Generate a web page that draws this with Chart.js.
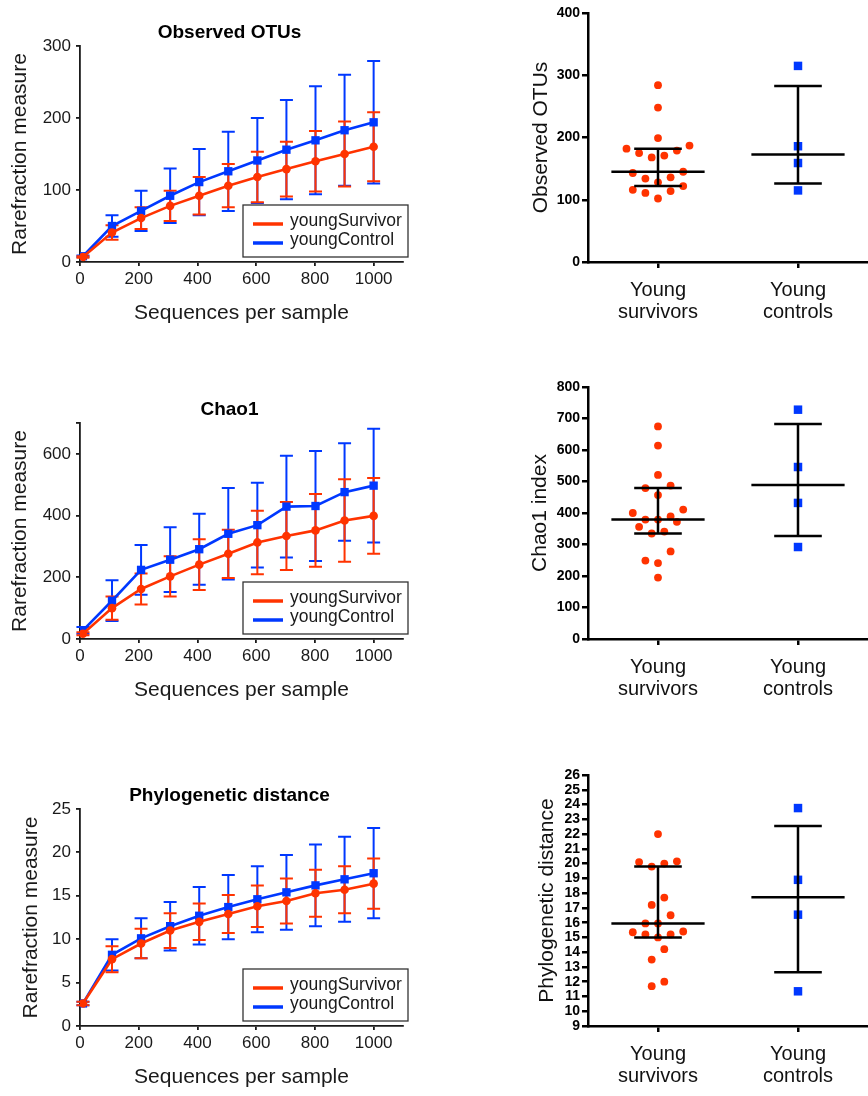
<!DOCTYPE html>
<html>
<head>
<meta charset="utf-8">
<script src="https://cdn.jsdelivr.net/npm/chart.js@4.4.1/dist/chart.umd.min.js"></script>
<style>
body { margin: 0; background: #fff; }
#page { position: relative; width: 868px; height: 1096px; overflow: hidden; }
canvas { position: absolute; }
</style>
</head>
<body>
<div id="page">
  <canvas id="otuCurve" width="459" height="332" style="left:0;top:0"></canvas>
  <canvas id="chaoCurve" width="459" height="339" style="left:0;top:370px"></canvas>
  <canvas id="pdCurve" width="459" height="336" style="left:0;top:760px"></canvas>
  <canvas id="otuDots" width="348" height="340" style="left:520px;top:0"></canvas>
  <canvas id="chaoDots" width="348" height="340" style="left:520px;top:370px"></canvas>
  <canvas id="pdDots" width="348" height="336" style="left:520px;top:760px"></canvas>
</div>
<script>
// rarefaction depths (x) and series names
const depths = [10, 109, 208, 307, 406, 505, 604, 703, 802, 901, 1000];
const seriesNames = ['youngSurvivor', 'youngControl'];
const depthTicks = [0, 200, 400, 600, 800, 1000];

// Observed OTUs rarefaction (mean, SD)
const otuSurvivorMean = [7, 41, 61, 78, 92, 106, 118, 129, 140, 150, 160];
const otuSurvivorSD = [1, 10, 15, 21, 26, 30, 35, 38, 42, 45, 48];
const otuControlMean = [8, 50, 71, 92, 111, 126, 141, 156, 169, 183, 194];
const otuControlSD = [1, 15, 28, 38, 46, 55, 59, 69, 75, 77, 85];
const otuCurveTicks = [0, 100, 200, 300];
const otuCurveLabels = ['0', '100', '200', '300'];

// Chao1 rarefaction
const chaoSurvivorMean = [17, 100, 162, 203, 241, 276, 313, 334, 352, 384, 399];
const chaoSurvivorSD = [5, 38, 50, 65, 82, 78, 103, 110, 118, 134, 123];
const chaoControlMean = [28, 124, 224, 257, 291, 341, 369, 429, 431, 476, 497];
const chaoControlSD = [11, 66, 81, 105, 115, 148, 137, 165, 178, 158, 184];
const chaoCurveTicks = [0, 200, 400, 600, 700];
const chaoCurveLabels = ['0', '200', '400', '600', ''];

// Phylogenetic distance rarefaction
const pdSurvivorMean = [2.6, 7.7, 9.5, 11.0, 12.0, 12.9, 13.8, 14.4, 15.3, 15.7, 16.4];
const pdSurvivorSD = [0.2, 1.5, 1.7, 2.0, 2.1, 2.2, 2.4, 2.6, 2.7, 2.7, 2.9];
const pdControlMean = [2.6, 8.2, 10.1, 11.5, 12.7, 13.7, 14.6, 15.4, 16.2, 16.9, 17.6];
const pdControlSD = [0.2, 1.8, 2.3, 2.8, 3.3, 3.7, 3.8, 4.3, 4.7, 4.9, 5.2];
const pdCurveTicks = [0, 5, 10, 15, 20, 25];
const pdCurveLabels = ['0', '5', '10', '15', '20', '25'];

// per-sample values for the dot plots
const groupNames = [['Young', 'survivors'], ['Young', 'controls']];
const otuSurvivors = [284, 248, 199, 182, 187, 175, 179, 168, 171, 143, 145, 134, 136, 128, 122, 116, 114, 111, 102];
const otuControls = [315, 186, 159, 115];
const otuDotTicks = [0, 100, 200, 300, 400];
const chaoSurvivors = [675, 614, 521, 487, 479, 457, 400, 411, 379, 379, 389, 372, 356, 335, 341, 278, 249, 241, 195];
const chaoControls = [728, 546, 432, 292];
const chaoDotTicks = [0, 100, 200, 300, 400, 500, 600, 700, 800];
const pdSurvivors = [22.0, 20.15, 20.0, 19.8, 20.1, 17.7, 17.2, 16.5, 15.95, 15.95, 15.4, 15.35, 15.2, 15.2, 15.0, 14.2, 13.5, 12.0, 11.7];
const pdControls = [23.76, 18.9, 16.54, 11.35];
const pdDotTicks = [9, 10, 11, 12, 13, 14, 15, 16, 17, 18, 19, 20, 21, 22, 23, 24, 25, 26];

const RED = '#ff3300';
const BLUE = '#0038ff';
const INK = '#1a1a1a';
Chart.defaults.font.family = "'Liberation Sans', Arial, sans-serif";
Chart.defaults.color = INK;

// SD error bars under the rarefaction lines
const errorBars = {
  id: 'errorBars',
  beforeDatasetsDraw(chart) {
    const { ctx, scales: { x, y } } = chart;
    ctx.save();
    ctx.lineWidth = 2;
    for (let d = chart.data.datasets.length - 1; d >= 0; d--) {
      const ds = chart.data.datasets[d];
      ctx.strokeStyle = ds.borderColor;
      ds.data.forEach((p, i) => {
        const px = x.getPixelForValue(p.x);
        const hi = y.getPixelForValue(p.y + ds.errors[i]);
        const lo = y.getPixelForValue(p.y - ds.errors[i]);
        ctx.beginPath();
        ctx.moveTo(px, hi); ctx.lineTo(px, lo);
        ctx.moveTo(px - 6.5, hi); ctx.lineTo(px + 6.5, hi);
        ctx.moveTo(px - 6.5, lo); ctx.lineTo(px + 6.5, lo);
        ctx.stroke();
      });
    }
    ctx.restore();
  }
};

// boxed legend in the lower right corner of the plot
const insideLegend = {
  id: 'insideLegend',
  afterDraw(chart) {
    const { ctx, chartArea: a } = chart;
    const w = 165, h = 52;
    const left = a.right + 5 - w, top = a.bottom - 5 - h;
    ctx.save();
    ctx.fillStyle = '#fff';
    ctx.fillRect(left, top, w, h);
    ctx.strokeStyle = '#333';
    ctx.lineWidth = 1.3;
    ctx.strokeRect(left, top, w, h);
    chart.data.datasets.forEach((ds, i) => {
      const y = top + 19 + i * 19;
      ctx.strokeStyle = ds.borderColor;
      ctx.lineWidth = 3.5;
      ctx.beginPath();
      ctx.moveTo(left + 10, y);
      ctx.lineTo(left + 40, y);
      ctx.stroke();
      ctx.fillStyle = INK;
      ctx.font = "17.5px 'Liberation Sans', Arial, sans-serif";
      ctx.textBaseline = 'middle';
      ctx.fillText(ds.label, left + 47, y - 3);
    });
    ctx.restore();
  }
};

function rarefactionChart(id, cfg) {
  const series = (mean, sd, i, color, style, r) => ({
    label: seriesNames[i],
    data: depths.map((d, k) => ({ x: d, y: mean[k] })),
    errors: sd,
    borderColor: color,
    backgroundColor: color,
    pointBackgroundColor: color,
    pointBorderWidth: 0,
    pointStyle: style,
    pointRadius: r,
    pointHoverRadius: r,
    borderWidth: 2.6,
    tension: 0
  });
  return new Chart(document.getElementById(id), {
    type: 'line',
    data: {
      datasets: [
        series(cfg.survivor, cfg.survivorSD, 0, RED, 'circle', 4.3),
        series(cfg.control, cfg.controlSD, 1, BLUE, 'rect', 5.9)
      ]
    },
    options: {
      responsive: false,
      animation: false,
      layout: { padding: 0, autoPadding: false },
      plugins: {
        legend: { display: false },
        tooltip: { enabled: false },
        title: {
          display: true,
          text: cfg.title,
          color: '#000',
          font: { size: 19, weight: 'bold' },
          padding: { top: cfg.titleTop, bottom: 1.6 }
        }
      },
      scales: {
        x: {
          type: 'linear',
          min: 0,
          max: 1100,
          afterBuildTicks: s => { s.ticks = depthTicks.map(v => ({ value: v })); },
          afterFit: s => { s.height = 70; },
          grid: { drawOnChartArea: false, tickLength: 4, color: INK, lineWidth: 1.8 },
          border: { color: INK, width: 1.8 },
          ticks: { font: { size: 17 }, padding: 3, maxRotation: 0, callback: v => String(v) },
          title: { display: true, text: 'Sequences per sample', font: { size: 21 }, padding: { top: 0, bottom: 6.4 } }
        },
        y: {
          min: 0,
          max: cfg.yMax,
          afterBuildTicks: s => { s.ticks = cfg.ticks.map(v => ({ value: v })); },
          afterFit: s => { s.width = 80; },
          grid: { drawOnChartArea: false, tickLength: 4, color: INK, lineWidth: 1.8 },
          border: { color: INK, width: 1.8 },
          ticks: { font: { size: 17 }, padding: 5, callback: (v, i) => cfg.labels[i] },
          title: { display: true, text: 'Rarefraction measure', font: { size: 21 }, padding: { top: cfg.yTitlePad, bottom: 0 } }
        },
        pad: {
          position: 'right',
          display: true,
          grid: { display: false },
          border: { display: false },
          ticks: { display: false },
          afterFit: s => { s.width = 56; }
        }
      }
    },
    plugins: [errorBars, insideLegend]
  });
}

// Prism-style quantile: rank p*(n+1), linear interpolation
function quantile(values, p) {
  const s = [...values].sort((a, b) => a - b);
  const r = p * (s.length + 1);
  const lo = Math.floor(r);
  if (lo < 1) return s[0];
  if (lo >= s.length) return s[s.length - 1];
  return s[lo - 1] + (r - lo) * (s[lo] - s[lo - 1]);
}

// spread the points of one group sideways, row by row
function swarm(chart, dsIndex, center) {
  const ys = chart.scales.y, xs = chart.scales.x;
  const unit = xs.getPixelForValue(1) - xs.getPixelForValue(0);
  const data = chart.data.datasets[dsIndex].data;
  const pts = data.map((p, i) => ({ i, py: ys.getPixelForValue(p.y) })).sort((a, b) => b.py - a.py);
  const rows = [];
  let row = [];
  for (const p of pts) {
    if (row.length && row[0].py - p.py > 13) { rows.push(row); row = []; }
    row.push(p);
  }
  rows.push(row);
  for (const r of rows) {
    const odd = r.length % 2 === 1;
    r.forEach((p, k) => {
      let slot;
      if (odd) slot = k === 0 ? 0 : (k % 2 ? -1 : 1) * 2 * Math.ceil(k / 2);
      else slot = (k % 2 ? 1 : -1) * (2 * Math.floor(k / 2) + 1);
      data[p.i].x = center + slot * 6.3 / unit;
    });
  }
}

function dotChart(id, cfg) {
  const lines = [];
  cfg.groups.forEach((vals, g) => {
    const med = quantile(vals, 0.5), q1 = quantile(vals, 0.25), q3 = quantile(vals, 0.75);
    lines.push(
      { x: g - 0.333, y: med }, { x: g + 0.333, y: med }, { x: g, y: null },
      { x: g - 0.17, y: q3 }, { x: g + 0.17, y: q3 }, { x: g, y: null },
      { x: g - 0.17, y: q1 }, { x: g + 0.17, y: q1 }, { x: g, y: null },
      { x: g, y: q1 }, { x: g, y: q3 }, { x: g, y: null }
    );
  });
  const chart = new Chart(document.getElementById(id), {
    type: 'scatter',
    data: {
      datasets: [
        { data: lines, showLine: true, spanGaps: false, borderColor: '#000', borderWidth: 2.5, pointRadius: 0, pointHoverRadius: 0 },
        { data: cfg.groups[0].map(v => ({ x: 0, y: v })), pointStyle: 'circle', pointRadius: 3.9, pointHoverRadius: 3.9, backgroundColor: RED, borderWidth: 0 },
        { data: cfg.groups[1].map(v => ({ x: 1, y: v })), pointStyle: 'rect', pointRadius: 6, pointHoverRadius: 6, backgroundColor: BLUE, borderWidth: 0 }
      ]
    },
    options: {
      responsive: false,
      animation: false,
      layout: { padding: { top: cfg.padTop, left: 0, right: 0, bottom: 0 }, autoPadding: false },
      plugins: { legend: { display: false }, tooltip: { enabled: false } },
      scales: {
        x: {
          type: 'linear',
          min: -0.5,
          max: 1.5,
          afterBuildTicks: s => { s.ticks = groupNames.map((g, i) => ({ value: i })); },
          afterFit: s => { s.height = cfg.xHeight; },
          grid: { drawOnChartArea: false, tickLength: 6, color: '#000', lineWidth: 2.5 },
          border: { color: '#000', width: 2.5 },
          ticks: { font: { size: 20, lineHeight: 1.1 }, color: '#111', padding: 11, maxRotation: 0, autoSkip: false, callback: (v, i) => groupNames[i] }
        },
        y: {
          min: cfg.ticks[0],
          max: cfg.ticks[cfg.ticks.length - 1],
          afterBuildTicks: s => { s.ticks = cfg.ticks.map(v => ({ value: v })); },
          afterFit: s => { s.width = 68; },
          grid: { drawOnChartArea: false, tickLength: 6, color: '#000', lineWidth: 2.5 },
          border: { color: '#000', width: 2.5 },
          ticks: { font: { size: 14, weight: 'bold' }, color: '#000', padding: 2, autoSkip: false },
          title: { display: true, text: cfg.yTitle, color: '#111', font: { size: 21 }, padding: { top: cfg.yTitlePad, bottom: 0 } }
        }
      }
    }
  });
  swarm(chart, 1, 0);
  swarm(chart, 2, 1);
  chart.update('none');
  return chart;
}

rarefactionChart('otuCurve', {
  title: 'Observed OTUs', titleTop: 21.6, yMax: 300, ticks: otuCurveTicks, labels: otuCurveLabels, yTitlePad: 7.9,
  survivor: otuSurvivorMean, survivorSD: otuSurvivorSD, control: otuControlMean, controlSD: otuControlSD
});
rarefactionChart('chaoCurve', {
  title: 'Chao1', titleTop: 28.6, yMax: 700, ticks: chaoCurveTicks, labels: chaoCurveLabels, yTitlePad: 7.4,
  survivor: chaoSurvivorMean, survivorSD: chaoSurvivorSD, control: chaoControlMean, controlSD: chaoControlSD
});
rarefactionChart('pdCurve', {
  title: 'Phylogenetic distance', titleTop: 24.6, yMax: 25, ticks: pdCurveTicks, labels: pdCurveLabels, yTitlePad: 18.7,
  survivor: pdSurvivorMean, survivorSD: pdSurvivorSD, control: pdControlMean, controlSD: pdControlSD
});

dotChart('otuDots', { groups: [otuSurvivors, otuControls], ticks: otuDotTicks, yTitle: 'Observed OTUs', yTitlePad: 8.4, padTop: 13, xHeight: 78 });
dotChart('chaoDots', { groups: [chaoSurvivors, chaoControls], ticks: chaoDotTicks, yTitle: 'Chao1 index', yTitlePad: 8.1, padTop: 17, xHeight: 71 });
dotChart('pdDots', { groups: [pdSurvivors, pdControls], ticks: pdDotTicks, yTitle: 'Phylogenetic distance', yTitlePad: 14.9, padTop: 15, xHeight: 70 });
</script>
</body>
</html>
